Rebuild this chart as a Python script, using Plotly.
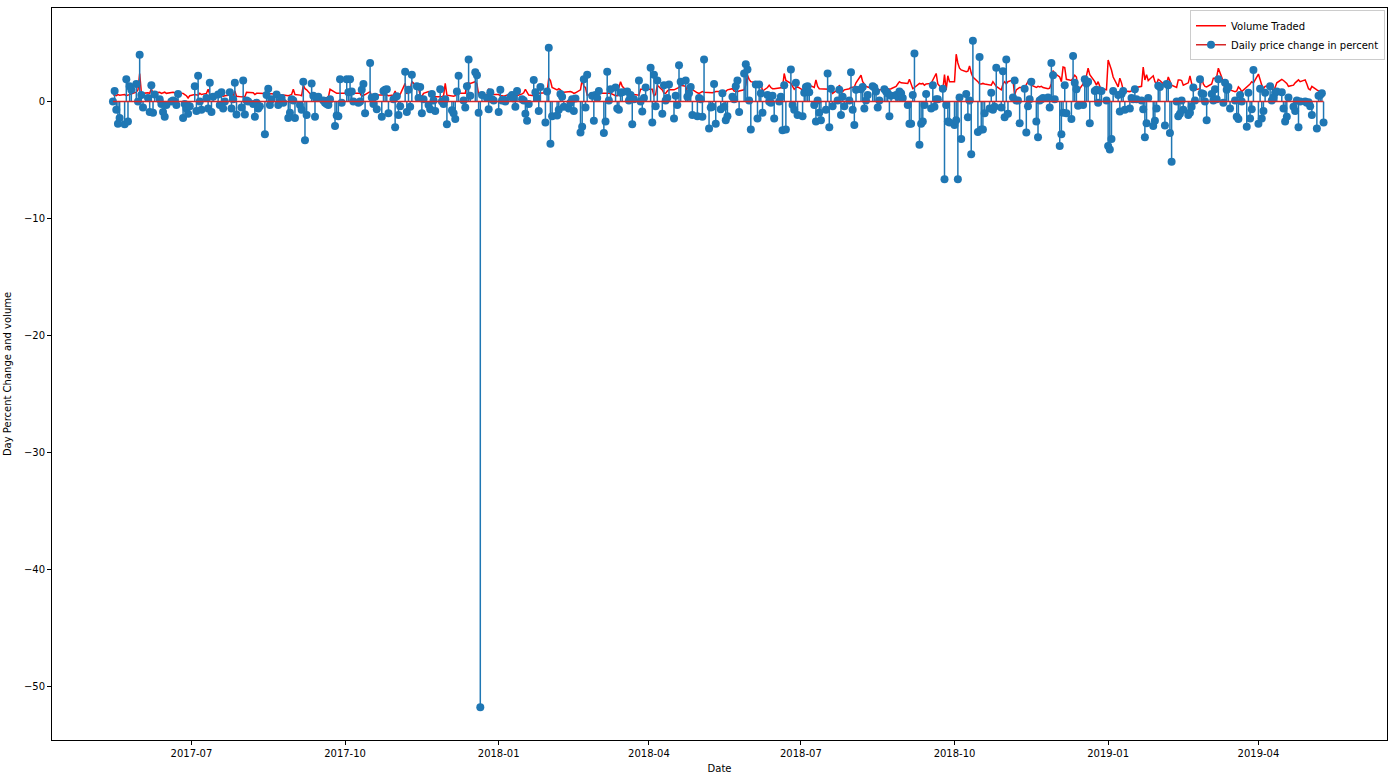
import pandas as pd
import plotly.graph_objects as go

# Daily price change in percent (business days starting 2017-05-15)
change_2017 = [
    0.0, 0.9, -0.7, -1.9, -1.4, -1.95, 1.9, -1.7, 1.3, 1.0, 1.5, 0.0, 4.0,
    0.55, -0.5, 0.3, -0.9, 1.4, -0.95, 0.6, 0.2, -0.2, -0.9, -1.3, -0.3, 0.0, 0.1, 0.0, -0.3, 0.65, -1.4, -0.2, -0.6, -1.05, -0.4,
    1.3, -0.8, 2.2, 0.0, -0.7, 0.3, -0.6, 1.6, -0.9, 0.4, 0.6, -0.3, 0.8, -0.6, 0.0, 0.8, -0.6, 0.2, 1.6, -1.1, -0.5,
    1.8, -1.1, 0.1, 0.0, -0.2, -1.3, -0.1, -0.6, -0.4, -2.8, 0.55, 1.1, -0.3, 0.2, 0.6, -0.3, 0.0, 0.3, -0.1, -1.4, -0.95, 0.2, 0.1,
    -1.4, -0.3, -0.7, 1.7, -3.3, -1.15, 1.55, 0.5, -1.3, 0.3, 0.4, 0.1, -0.1, -0.2, -0.3, 0.2, -2.1, -1.2, -1.25, 1.9, -0.1,
    1.9, 0.8, 1.9, 0.85, 0.0, -0.1, 0.0, 1.0, 1.5, -1.0, 3.3, 0.35, -0.2, 0.4, -0.65, -1.3, 0.9, 1.0, 1.05, -1.0, 0.2, -2.2,
    0.45, -1.15, -0.4, 2.55, -0.9, 1.0, -0.45, 2.3, 1.3, 0.3, 1.25, -1.0, 0.2, -0.3, -0.65, 0.65, 0.1, -0.8, 1.05, 0.0, -0.2, 0.2,
    -1.95, -0.75, -1.0, -1.5, 0.85, 2.2, 0.1, -0.5, 1.3, 3.6, 0.5, 2.5, 2.25, -0.95, -51.8, 0.55, 0.3, -0.65, 0.8, 0.2, 0.1,
]
change_2018 = [
    -0.9, 1.0, 0.1, 0.15, 0.0, 0.4, 0.55, 0.25, -0.45, 0.9, 0.2, 0.1, -1.05, -1.65, -0.2, 1.85, 0.8, 0.3, -0.8, 1.25, -1.8, 0.85, 4.6,
    -3.6, -1.25, -1.2, -0.7, 0.65, 0.4, -0.45, -0.6, -0.1, 0.2, -0.8, 0.25, -2.65, -2.15, 1.9, -0.5, 2.3, 0.5, -1.65, 0.55,
    0.3, 0.9, -2.7, -1.7, 2.55, 0.1, 1.05, 1.2, -0.6, -0.7, 0.75, 0.8, 0.85, 0.1, 0.55, -1.95, 0.2, 1.8, 0.0, -0.85, 0.3, 1.2,
    2.9, -1.8, 2.3, -0.4, 1.8, -1.05, 1.4, 0.1, 0.3, 1.45, -1.45, 0.5, -0.3, 3.1, 1.7, 1.8, 0.4, 0.7, 1.25, -1.15, -1.25,
    0.3, 0.2, -1.3, 3.6, -2.3, -0.5, -0.45, 1.5, -1.9, -0.65, 0.7, -0.45, -1.6, -1.25, 0.4, 0.2, 1.3, 1.8, -0.9, 2.4, 3.2, 2.75, 0.1,
    -2.4, 1.45, -1.45, 1.45, 0.7, -0.95, 0.55, 0.0, -0.1, 0.5, -1.45, 0.0, 0.4, -2.45, 1.4, -2.4, 2.75, -0.3, -0.7, 1.6, -1.15,
    -1.25, 0.75, 1.25, 1.3, 0.8, -0.3, -1.7, 0.1, -0.95, -1.6, -0.7, 2.4, -2.2, 1.1, -0.4, 0.1, 1.0, -1.15, 0.4, -0.4, 0.1, 2.5,
    -0.7, -2.0, 1.0, 1.05, 1.25, -0.6, 0.1, 0.55, 1.3, 1.2, 0.85, -0.5, 0.1, 1.05, 0.85, 0.7, -1.25, 0.5, 0.55, 0.4, 0.85, 0.7, 0.3,
    -0.3, -1.9, -1.9, 0.55, 4.1, -3.7, -1.9, -1.7, -0.3, 0.65, -0.6, 1.4, -0.45, 0.2, 0.2, 1.1, -6.65, -0.3, -1.7, -1.8,
    -2.0, -1.6, -6.65, 0.35, -3.2, 0.65, -1.35, 0.1, -4.5, 5.2, -2.6, 3.8, -2.4, -2.4, -1.0, -0.6, 0.75, -0.7, -0.45, 2.9, -0.5, 2.6, -1.35,
    3.6, -1.05, 0.35, 1.8, 0.1, 0.1, -1.85, 1.1, -2.65, -0.4, 0.2, 1.7, -1.7, -3.05, 0.1, 0.2, 0.3, 0.35, -0.5, 3.3, 2.25, 0.2,
    -3.8, -2.8, -0.95, 1.4, -1.0, -1.5, 3.9, 1.6, 1.05, -0.35, -0.3, 1.9, 1.55, 1.7, -1.85, 0.9, 1.0, -0.1, 0.95, 0.9, 0.1,
]
change_2019 = [
    -3.8, -4.1, -3.2, 0.9, 0.55, -0.85, 0.65, 0.9, -0.7, -0.6, 0.3, 0.2, 1.05, 0.2, 0.1, -0.65, -3.05, -1.85, 0.3, -2.1, -1.65, -0.6, 1.35,
    1.25, -2.05, 1.5, 1.4, -2.7, -5.15, 0.0, -1.25, -1.05, 0.1, -0.7, -1.15, -0.95, -0.45, 1.2, 0.1, 1.9, 0.7, 0.65, 0.0,
    -1.6, 0.65, 0.1, 1.05, 0.2, 1.9, -0.1, 1.6, 1.0, 1.25, -0.6, 0.1, -1.3, -1.5, 0.55, 0.0, -2.15, 0.75, -1.45, -0.65, 2.7,
    -1.9, 1.1, -1.45, -0.8, 0.75, 1.3, 0.1, 0.35, 0.75, 0.85, 0.8, -0.6, -1.7, -1.3, 0.35, -0.45, -0.8, 0.1, -2.2, 0.0, 0.0, -0.1,
    -0.05, -0.4, -1.15, -2.3, 0.5, 0.55, 0.7, -1.8,
]

# Volume traded (same business days)
volume_2017 = [
    0.55, 0.6, 0.5, 0.6, 0.55, 0.6, 0.5, 0.55, 0.6, 0.65, 0.8, 1.0, 2.4,
    0.8, 0.7, 0.75, 0.7, 1.1, 0.7, 0.75, 0.8, 0.7, 0.75, 0.8, 0.7, 0.75, 0.8, 0.75, 0.7, 0.75, 0.7, 0.6, 0.5, 0.3, 0.5,
    0.6, 0.6, 0.55, 0.7, 0.6, 0.7, 1.05, 0.6, 0.5, 0.55, 0.5, 0.55, 0.5, 0.45, 0.5, 0.55, 0.4, 0.5, 0.9, 0.45, 0.4,
    0.4, 0.4, 0.8, 0.8, 0.75, 0.6, 0.7, 0.7, 0.7, 0.65, 0.7, 0.7, 0.7, 0.7, 0.65, 0.6, 0.55, 0.55, 0.55, 0.5, 0.55, 0.6, 1.05,
    0.6, 0.55, 0.5, 1.4, 1.1, 1.0, 0.5, 0.35, 0.3, 0.3, 0.35, 0.3, 0.3, 0.35, 0.35, 1.05, 0.8, 0.7, 0.7, 0.7, 0.7,
    0.75, 0.75, 0.7, 0.75, 0.7, 0.75, 0.7, 0.45, 0.5, 0.6, 0.85, 0.35, 0.3, 0.35, 0.55, 0.55, 0.6, 0.55, 0.55, 0.5, 0.55, 0.9,
    0.4, 0.3, 0.6, 1.55, 0.65, 0.9, 1.0, 1.7, 1.3, 1.2, 0.5, 0.45, 0.7, 0.85, 0.7, 0.45, 0.4, 0.4, 0.45, 0.4, 0.5, 1.55,
    0.55, 0.45, 0.45, 0.5, 1.0, 0.7, 0.7, 0.7, 1.55, 1.6, 1.55, 1.7, 1.5, 0.6, 0.55, 0.6, 0.55, 1.1, 0.8, 0.7, 0.6,
]
volume_2018 = [
    0.6, 0.5, 0.5, 0.45, 0.5, 0.65, 0.7, 0.6, 0.55, 0.5, 0.65, 0.75, 1.05, 0.8, 0.55, 0.5, 0.6, 0.7, 0.7, 0.7, 0.75, 0.8, 2.0,
    1.8, 1.2, 1.0, 1.1, 1.0, 0.8, 0.8, 0.85, 0.85, 0.8, 0.7, 0.75, 1.0, 1.9, 1.3, 1.2, 0.55, 0.6, 0.75, 0.7,
    0.7, 0.7, 0.75, 0.7, 0.75, 0.7, 0.7, 0.5, 0.5, 1.2, 1.7, 1.3, 0.85, 0.8, 0.75, 0.75, 0.6, 0.55, 1.05, 1.05, 1.05, 1.05,
    1.05, 1.05, 0.5, 0.6, 1.4, 1.0, 0.7, 0.7, 0.9, 1.0, 1.0, 1.05, 1.1, 1.2, 1.4, 1.3, 0.85, 0.8, 1.1, 1.0, 0.75,
    0.7, 0.75, 0.85, 0.8, 0.75, 0.75, 0.75, 0.8, 0.85, 0.85, 0.85, 0.8, 0.85, 1.0, 1.1, 0.9, 0.85, 0.85, 0.9, 1.0, 1.4, 2.25, 1.9,
    1.7, 1.6, 1.55, 1.5, 1.6, 0.9, 1.2, 1.4, 1.2, 1.1, 1.1, 1.15, 1.15, 1.2, 2.4, 1.8, 1.55, 1.3, 1.05, 1.2, 1.25,
    1.0, 1.1, 1.3, 1.3, 1.4, 1.2, 1.85, 1.3, 1.1, 1.1, 1.1, 1.05, 1.05, 1.0, 0.7, 1.0, 1.4, 1.15, 0.85, 1.0, 1.1, 1.2,
    1.25, 1.25, 1.6, 2.25, 1.7, 1.5, 1.3, 1.25, 1.1, 0.9, 0.85, 0.95, 1.0, 1.1, 1.15, 1.1, 1.05, 1.1, 1.3, 1.5, 1.7, 1.6, 1.6,
    1.55, 1.9, 1.4, 1.1, 1.2, 1.55, 1.5, 1.55, 1.4, 1.5, 1.55, 1.8, 2.1, 2.4, 1.5, 1.0, 2.3, 1.0, 2.2, 1.7,
    1.7, 4.05, 3.3, 2.85, 2.7, 2.55, 2.6, 3.05, 2.45, 2.1, 1.7, 1.5, 1.5, 1.55, 1.5, 1.4, 1.4, 1.7, 1.5, 1.3, 1.0, 1.5, 1.7,
    1.5, 1.7, 1.85, 0.55, 1.0, 1.1, 1.2, 1.2, 1.4, 1.7, 1.6, 1.4, 1.2, 1.3, 1.25, 1.3, 1.2, 1.1, 1.15, 1.55, 2.65, 2.4,
    2.1, 1.7, 2.95, 2.9, 1.9, 1.8, 2.0, 2.25, 2.1, 0.9, 1.5, 1.8, 2.2, 2.85, 2.3, 1.7, 1.4, 1.7, 1.3, 1.1, 1.0,
]
volume_2019 = [
    3.55, 3.2, 2.7, 2.1, 1.25, 2.0, 1.6, 1.0, 0.9, 0.85, 0.9, 1.0, 1.1, 1.2, 1.3, 2.95, 1.85, 2.3, 1.8, 2.2, 1.7, 1.5, 1.9,
    1.8, 1.4, 1.5, 2.1, 1.8, 1.4, 1.2, 1.85, 1.85, 1.8, 1.4, 1.6, 2.2, 1.5, 0.9, 1.0, 1.1, 2.1, 1.5, 1.3,
    1.25, 1.5, 2.0, 2.0, 2.1, 2.85, 1.7, 1.0, 1.2, 1.25, 1.0, 0.85, 0.9, 1.25, 1.1, 0.85, 1.2, 1.4, 1.5, 1.7, 1.6,
    2.35, 1.8, 1.4, 1.1, 1.3, 1.4, 1.1, 1.0, 1.2, 1.6, 1.9, 1.8, 1.7, 1.55, 1.3, 1.4, 1.6, 1.7, 1.85, 1.7, 1.85, 1.5,
    1.1, 1.0, 1.3, 1.0, 0.9, 0.8, 0.75, 0.7,
]

start_date = "2017-05-15"
x_tick_values = ["2017-07-01", "2017-10-01", "2018-01-01", "2018-04-01", "2018-07-01",
                 "2018-10-01", "2019-01-01", "2019-04-01"]
y_tick_values = [-50, -40, -30, -20, -10, 0]

change = change_2017 + change_2018 + change_2019
volume = volume_2017 + volume_2018 + volume_2019
dates_change = list(pd.bdate_range(start=start_date, periods=len(change)))
dates_volume = list(pd.bdate_range(start=start_date, periods=len(volume)))

C0 = "#1f77b4"
C3 = "#d62728"
FONT = "DejaVu Sans, Verdana, sans-serif"

stem_x, stem_y = [], []
for d, v in zip(dates_change, change):
    stem_x += [d, d, None]
    stem_y += [0, v, None]

fig = go.Figure()
fig.add_trace(go.Scatter(x=dates_volume, y=volume, mode="lines", name="Volume Traded",
                         line=dict(color="#ff0000", width=1.5)))
fig.add_trace(go.Scatter(x=stem_x, y=stem_y, mode="lines", showlegend=False,
                         line=dict(color=C0, width=1.5), hoverinfo="skip"))
fig.add_trace(go.Scatter(x=dates_change, y=change, mode="markers", showlegend=False,
                         marker=dict(color=C0, size=8), name="Daily price change in percent"))
fig.add_trace(go.Scatter(x=[dates_change[0], dates_change[-1]], y=[0, 0], mode="lines",
                         showlegend=False, line=dict(color=C3, width=1.5), hoverinfo="skip"))
# legend entry for the stem container (marker + baseline)
fig.add_trace(go.Scatter(x=[None], y=[None], mode="lines+markers",
                         name="Daily price change in percent",
                         line=dict(color=C3, width=1.5), marker=dict(color=C0, size=8)))

axis_common = dict(showline=True, linecolor="black", linewidth=1, mirror=True,
                   ticks="outside", ticklen=4, tickcolor="black", showgrid=False,
                   zeroline=False, tickfont=dict(family=FONT, size=10, color="black"))

fig.update_layout(
    width=1395, height=779,
    margin=dict(l=49, r=7, t=8, b=39),
    paper_bgcolor="white", plot_bgcolor="white",
    font=dict(family=FONT, size=10, color="black"),
    showlegend=True,
    legend=dict(x=0.9985, y=0.997, xanchor="right", yanchor="top",
                bgcolor="rgba(255,255,255,0.8)", bordercolor="#cccccc", borderwidth=1,
                font=dict(family=FONT, size=10, color="black"),
                tracegroupgap=0, itemwidth=30),
    xaxis=dict(**axis_common, type="date",
               range=["2017-04-08 12:00", "2019-06-17"],
               tickvals=x_tick_values, tickformat="%Y-%m",
               title=dict(text="Date", font=dict(family=FONT, size=10), standoff=6)),
    yaxis=dict(**axis_common, range=[-54.6, 8.0], tickvals=y_tick_values,
               title=dict(text="Day Percent Change and volume", font=dict(family=FONT, size=10),
                          standoff=10)),
)

fig.write_html("out.html", config={"displayModeBar": False},
               post_script="document.body.style.margin='0';document.body.style.overflow='hidden';")
